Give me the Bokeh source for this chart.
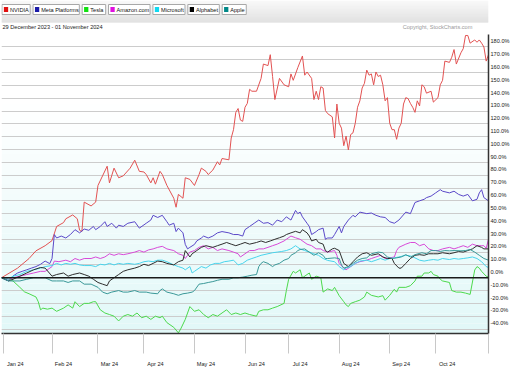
from bokeh.plotting import figure
from bokeh.models import Range1d, FixedTicker, Span, CustomJSTickFormatter
from bokeh.layouts import column
from bokeh.core.properties import value
from bokeh.embed import file_html
from bokeh.resources import INLINE

# ---------------- data (trading-day index since 29 Dec 2023, % change) ----------------
series_names = ["NVIDIA", "Meta Platforms", "Tesla", "Amazon.com", "Microsoft", "Alphabet", "Apple"]

nvda_day = [0,7,12,15,19,22,24,27,28,31,33,34,35,36,39,41,42,46,47,49,51,53,56,58,60,62,63,65,66,67,69,70,72,75,76,77,79,80,82,84,86,87,89,90,92,94,95,96,99,100,101,102,103,104,105,106,107,108,109,111,113,114,116,117,118,119,121,123,125,126,127,129,131,132,133,135,136,137,138,139,140,141,142,144,145,146,147,148,149,150,151,152,153,154,155,156,157,158,159,160,161,162,163,164,165,166,167,168,169,170,171,172,173,174,175,176,177,178,179,180,181,182,183,184,185,187,188,190,191,192,193,195,196,197,198,200,201,202,203,204,206,207,208,209,210,211,212]
nvda_pct = [0,7.5,15,21,25,29,40,43,46,49,46,37,36,59,56,59,72,87,74,85.5,78,79.5,85.5,91.7,83,82.5,80.5,74,78,73,83,80.5,72,62,55,65,62,78,76.7,72,80.5,85.5,83,80.5,84,90.5,88,93,92,109,115.5,129,132,123,122,133,136,147,145.5,145.5,155.5,166.7,165.5,174,157,139,155.5,150.5,149,159,154,164,173,158,160.5,155.5,139,145.5,139,149,148,130.5,128,125.5,109,135.5,120.5,116.7,103,110.5,99.7,111.7,113,120.5,133,138,148,151.7,162,158,159,150.5,160.5,157,158,150.5,138,140.5,120.5,115.5,115.5,108,116.7,120.5,135.5,140.5,139.7,136,133,129,138,134,150.5,149,144,145.5,137,140.5,150.5,154,169,168,172,178,166.7,175.5,178.7,189,189,183,185.5,183.7,185.5,183,180,169,174]

meta_day = [0,3,5,7,9,11,13,15,17,19,21,22,23,24,26,28,30,32,34,36,38,40,41,43,45,46,48,50,51,53,55,58,60,63,65,66,68,70,72,73,75,76,77,79,80,81,82,84,85,87,88,90,92,94,96,99,101,103,105,106,108,110,112,114,116,118,120,122,124,126,128,129,130,131,133,134,135,137,138,140,141,142,144,145,147,148,149,151,153,154,156,159,161,163,165,167,169,171,173,176,178,180,182,184,185,187,189,191,192,195,197,199,201,203,205,207,208,209,210,212]
meta_pct = [0,-2.5,1.3,3.7,5,6.2,7.5,8.7,10.5,13,11,15,33.7,31,32.5,31,33.7,37.5,35,38,37,40,37.5,40,43.7,40,42.5,38.7,41,40,42.5,43.7,38.7,42.5,45,48.7,47,48.7,43.7,41,42.5,36,38.7,35,26,22.5,23.7,26,28.7,31,32.5,31,32.5,35,36,35,33.7,33.7,32.5,37.5,40,42.5,45,42.5,43,41,45,43.7,47.5,45,52.5,50,51.2,47.5,42.5,40,33.7,36,37.5,38.7,30,31,31,33.7,40,35,40,45,48.7,47.5,51.2,50,50.5,48.7,47.5,47,43.7,42.5,45,51.2,50,58.7,60,61.2,62.5,63.7,66.2,68.7,67.5,66.2,67.5,65,63.7,65,60,61.2,66.2,68.7,62.5,60]

tsla_day = [0,3,5,8,10,12,15,16,17,18,20,22,24,27,29,31,32,34,36,38,40,41,43,45,47,49,51,53,55,57,59,61,63,65,67,69,70,72,75,77,78,80,82,84,86,88,90,92,94,96,98,100,102,104,106,108,111,112,114,116,118,120,123,124,125,127,128,130,131,133,134,135,137,139,140,142,144,145,147,149,150,151,152,154,156,158,159,161,164,166,167,169,171,172,173,176,178,180,181,183,184,186,187,188,190,191,192,195,196,198,200,202,204,206,207,208,209,211,212]
tsla_pct = [0,-1.2,-2.5,-7.5,-11,-12.5,-15,-18.7,-25,-23.7,-24.5,-23.7,-26.2,-23.7,-21.2,-23.7,-18.7,-22.5,-20,-20,-18.7,-18.7,-25,-27.5,-28.7,-30,-33.7,-30,-28.7,-30,-27.5,-31.2,-30,-32.5,-30,-31.2,-30,-35,-38.7,-43,-40,-32.5,-22.5,-26.2,-25,-28.7,-31.2,-28.7,-30,-27.5,-25,-28.7,-27.5,-28.7,-27.5,-28.7,-30,-26.2,-25,-25,-23.7,-22.5,-20,-10,-1.2,5,3.7,6.2,0,2.5,3.7,-1.2,1.2,0,-11.2,-8.7,-10,-7.5,-14,-18.7,-21.2,-22.5,-20,-18.7,-17.5,-15,-11.2,-13.7,-15,-14,-17.5,-13.7,-9,-11.2,-7.5,-7.5,-6.2,-2.5,1.2,1.2,3.7,3.7,5,2.5,1.2,-1.2,-2.5,-3.7,-10,-11.2,-11.2,-12,-13,6,8.7,7.5,5,1.2,0.5]

amzn_day = [0,3,5,8,11,14,17,19,22,23,25,28,30,32,34,36,39,41,43,45,47,49,51,53,55,58,60,62,64,66,68,70,72,75,77,79,80,81,82,84,86,88,90,92,94,96,99,101,103,104,106,108,110,112,114,116,118,120,123,124,126,128,130,133,135,137,139,140,142,145,146,147,149,150,152,154,156,159,161,163,165,167,169,171,172,173,176,178,180,182,184,186,188,190,192,195,197,199,201,203,205,207,209,210,211,212]
amzn_pct = [0,-1.2,0,1.2,2.5,3.7,5,5,8.7,13,12.5,13.7,12.5,15,13.7,15,15,16.2,15,16.2,18.7,17.5,18.7,18,18.7,20,21.2,20,21.7,22.5,23.7,24.5,22.5,21.2,18.7,17.5,15,17.5,20,21.2,23.7,25,22.5,23.7,21.2,22.5,21.2,20,18.7,16.2,18.7,21.2,21.2,22.5,22.5,23.7,25,26.2,28.7,30,32.5,31.2,30,26.2,25,22.5,22.5,21.2,20,21.2,17.5,11.2,7.5,6.2,8.7,11.2,12.5,13.7,15,16.2,17.5,15,15.5,16.2,21.2,23.7,26.2,27.5,27.5,25,26.2,22.5,21.2,21.2,22.5,23.7,22.5,23.7,25,23.7,26.2,25,25,25,23,30]

msft_day = [0,3,5,8,11,14,17,19,22,24,26,28,30,32,34,36,39,41,43,45,47,49,51,53,55,58,60,62,64,66,68,70,72,75,77,79,80,82,83,84,87,89,91,93,95,97,99,101,103,105,107,109,111,113,116,118,120,122,124,126,128,129,130,132,134,136,138,140,142,145,147,149,150,152,154,156,159,161,163,165,167,169,171,173,176,178,180,182,184,186,188,190,192,195,197,199,201,203,205,207,209,211,212]
msft_pct = [0,-1.2,1.2,2.5,5,6.2,7.5,8.7,9.5,11.2,10,11.2,10.5,11.2,10,9.5,9.5,8.7,10.5,10,11.2,10,11.2,10.5,11.2,10.5,11.2,12.5,13,12.5,13.7,13.7,12.5,10,8.7,7.5,6.2,8.7,3.7,5,8.7,7.5,10,11.2,11.2,12.5,13,13.7,10,11.2,13.7,15,16.2,17.5,18.7,19.5,20,20.5,21.2,22.5,25,23.7,22.5,21.2,20,18.7,17.5,15,13.5,12.5,8.7,6.2,7.5,8.7,11.2,13,13.7,12.5,13.7,15,13.7,15,15.5,16.2,17.5,17,15.5,13.7,13,13.7,14.2,13.7,15,14.2,15,14.5,15,15.5,16.2,15,12.5,8.7,8]

googl_day = [0,3,5,8,11,14,17,19,22,24,27,29,31,34,36,38,40,42,44,46,47,49,51,53,55,58,60,62,64,66,68,70,72,75,77,79,80,82,83,85,87,89,92,94,96,98,100,102,104,106,108,111,113,115,117,119,121,123,124,126,128,130,131,133,134,135,137,138,140,141,142,144,145,147,148,149,151,153,155,157,159,161,164,166,168,170,171,173,174,176,178,180,182,184,186,188,190,192,195,197,199,201,203,205,207,209,210,212]
googl_pct = [0,-2.5,-1.2,1.2,3.7,6.2,8,7.5,1.2,2.5,3.7,1.2,2.5,3.7,2.5,1.2,-1.2,-3.7,-5,-6.2,-2.5,0,2.5,5,6.2,7.5,8.7,10.5,9.5,11.2,13,12.5,11.2,10,12.5,13.7,21.2,16.2,18.7,21.2,23.7,25,23.7,25,26.2,27.5,26.2,25,26.2,27.5,26.2,27.5,28.7,27.5,28.7,30,31.2,32.5,33.7,35,36.2,35,37.5,35,32.5,28.7,30,27.5,26.2,21.2,20,22.5,23,21.2,16.2,11.2,8.7,12.5,16.2,18.7,19.5,17.5,18.7,16.2,15,15,11.2,7.5,7.5,11.2,15,17.5,18,17.5,18.7,18.7,18.7,19.5,18.7,19.5,20.5,20,21.2,22.5,25,23.7,22.5,22.5]

aapl_day = [0,3,5,8,11,14,17,19,22,24,27,29,31,34,36,39,42,44,46,48,51,53,55,58,60,63,65,68,69,70,72,75,77,79,81,83,84,86,88,90,92,94,96,99,101,103,105,107,109,111,112,113,114,116,118,119,121,123,125,126,128,129,130,132,133,135,136,138,140,141,142,145,147,148,149,151,153,155,157,159,161,164,166,168,170,172,174,176,178,180,183,185,187,189,191,193,195,197,200,202,204,206,208,210,212]
aapl_pct = [0,-2.5,-2.5,-2.5,-1.2,0,0,0,-2.5,-2.5,-2.5,-3.7,-2.5,-2.5,-5,-5,-7.5,-11.2,-12.5,-11.2,-10,-11.2,-11.2,-10,-11.2,-11.2,-12,-12.5,-10,-8.7,-11.2,-12.5,-13.7,-12.5,-12,-11.2,-10,-5,-4.5,-3.7,-3,-2,-1.2,-1.2,0,0,0.5,1.2,2,2.5,8.7,11.2,12.5,11.2,8.7,10,11.2,13.7,15,17.5,19.5,21.2,22,22.5,21.2,18.7,17.5,19.5,17.5,15,15,15.5,15,10,7.5,8.7,11.2,13.7,15,15.5,18.7,20,19.5,16.2,15,15.5,16.2,18,16.2,18,19.5,18.7,21.2,21.2,20.5,21.2,21,21.2,21,21.2,22,20,17.5,15,13.7]

month_labels = ["Jan 24", "Feb 24", "Mar 24", "Apr 24", "May 24", "Jun 24", "Jul 24", "Aug 24", "Sep 24", "Oct 24"]
month_start_day = [1, 22, 42, 62, 84, 106, 125, 147, 169, 189, 212]
pct_levels = [-40, -30, -20, -10, 0, 10, 20, 30, 40, 50, 60, 70, 80, 90, 100, 110, 120, 130, 140, 150, 160, 170, 180]
date_span_text = "29 December 2023 - 01 November 2024"
copyright_text = "Copyright, StockCharts.com"

# ---------------- style ----------------
FONT = "Liberation Sans"
FS_PX = 5.6
FS = "%.1fpx" % FS_PX
W = 512
HEADER_H = 34
BAR_H = 22
MAIN_H = 335
line_colors = ["#e25252", "#5a48c8", "#4cd94c", "#d84ad8", "#48d4ec", "#2e2e2e", "#3a9898"]
legend_colors = ["#e01010", "#1a1aa8", "#10e010", "#e010e0", "#10d8f0", "#000000", "#008888"]

# approximate Liberation Sans advance widths (em/1000) for sizing legend boxes
_adv = {"A": 667, "M": 833, "N": 722, "V": 667, "I": 278, "D": 722, "P": 667, "T": 611,
        "a": 556, "c": 500, "e": 556, "f": 278, "h": 556, "l": 222, "m": 833, "n": 556,
        "o": 556, "p": 556, "r": 333, "s": 500, "t": 278, "z": 500, "i": 222, "b": 556,
        ".": 278, " ": 278}

def text_width(s, size):
    return sum(_adv.get(ch, 556) for ch in s) / 1000.0 * size

def lerp_color(c0, c1, t):
    return "#%02x%02x%02x" % tuple(int(round(a + (b - a) * t)) for a, b in zip(c0, c1))

# ---------------- header (legend bar) ----------------
hdr = figure(width=W, height=HEADER_H, x_range=Range1d(0, W), y_range=Range1d(HEADER_H, 0),
             toolbar_location=None, output_backend="svg", min_border=0,
             x_axis_location=None, y_axis_location=None)
hdr.grid.visible = False
hdr.outline_line_color = None
n = BAR_H
hdr.quad(left=[0] * n, right=[W] * n, top=list(range(n)), bottom=[i + 1 for i in range(n)],
         fill_color=[lerp_color((247, 247, 247), (216, 216, 216), i / (n - 1)) for i in range(n)],
         line_color=None)

bx, lefts, rights, sq_l, sq_r, tx = 0.5, [], [], [], [], []
for name in series_names:
    w = 8.5 + text_width(name, FS_PX) + 2.5
    lefts.append(bx); rights.append(bx + w)
    sq_l.append(bx + 2); sq_r.append(bx + 6.5)
    tx.append(bx + 8.5)
    bx += w + 3
hdr.quad(left=lefts, right=rights, top=[4] * 7, bottom=[14] * 7,
         fill_color="white", line_color="#a8a8a8", line_width=1)
hdr.quad(left=sq_l, right=sq_r, top=[6.5] * 7, bottom=[11.5] * 7,
         fill_color=legend_colors, line_color=None)
hdr.text(x=tx, y=[9.3] * 7, text=series_names, text_font=value(FONT), text_font_size=FS,
         text_baseline="middle", text_color="#111111")
hdr.text(x=[1], y=[26.5], text=[date_span_text], text_font=value(FONT), text_font_size=FS,
         text_baseline="middle", text_color="#222222")
hdr.text(x=[495], y=[26.5], text=[copyright_text], text_font=value(FONT), text_font_size=FS,
         text_baseline="middle", text_align="right", text_color="#9a9a9a")

# ---------------- main chart ----------------
Y0, Y1 = -43.5, 189.75
p = figure(width=W, height=MAIN_H, x_range=Range1d(0, 212), y_range=Range1d(Y0, Y1),
           toolbar_location=None, output_backend="svg", y_axis_location="right",
           min_border_left=1, min_border_top=0, min_border_bottom=24, min_border_right=21)
p.outline_line_color = None
p.background_fill_color = "white"

nb = 30
edges = [Y0 + (Y1 - Y0) * i / nb for i in range(nb + 1)]
p.quad(left=[0] * nb, right=[212] * nb, bottom=edges[:-1], top=edges[1:],
       fill_color=[lerp_color((226, 248, 248), (255, 255, 255), min(1.0, i / (nb * 0.75))) for i in range(nb)],
       line_color=None, level="image")

p.xgrid.visible = False
p.ygrid.ticker = FixedTicker(ticks=pct_levels)
p.ygrid.grid_line_color = "#cccccc"
p.ygrid.grid_line_width = 1.2

p.add_layout(Span(location=0, dimension="width", line_color="#1a1a1a", line_width=1.5))

days = [nvda_day, meta_day, tsla_day, amzn_day, msft_day, googl_day, aapl_day]
pcts = [nvda_pct, meta_pct, tsla_pct, amzn_pct, msft_pct, googl_pct, aapl_pct]
for d, v, c in zip(days, pcts, line_colors):
    m = min(len(d), len(v))
    p.line(d[:m], v[:m], line_color=c, line_width=1.0)

# right axis: labels sit just above their grid line
LABEL_SHIFT = 4.5
ya = p.yaxis[0]
ya.ticker = FixedTicker(ticks=[v + LABEL_SHIFT for v in pct_levels])
ya.formatter = CustomJSTickFormatter(args=dict(s=LABEL_SHIFT), code="return (tick - s).toFixed(1) + '%';")
ya.major_tick_line_color = None
ya.minor_tick_line_color = None
ya.major_tick_out = 0
ya.major_tick_in = 0
ya.axis_label_standoff = 0
ya.axis_line_color = "#333333"
ya.axis_line_width = 1.5
ya.major_label_standoff = 2
ya.major_label_text_font = FONT
ya.major_label_text_font_size = FS
ya.major_label_text_color = "#222222"

# bottom axis: month separators as minor ticks, labels just right of them
LABEL_OFFSET = 5
label_pos = [m + LABEL_OFFSET for m in month_start_day[:-1]]
xa = p.xaxis[0]
xa.ticker = FixedTicker(ticks=label_pos, minor_ticks=month_start_day)
xa.formatter = CustomJSTickFormatter(args=dict(pos=label_pos, lab=month_labels),
                                     code="const i = pos.indexOf(tick); return i >= 0 ? lab[i] : '';")
xa.major_tick_line_color = None
xa.major_tick_out = 0
xa.major_tick_in = 0
xa.axis_label_standoff = 0
xa.minor_tick_in = 0
xa.minor_tick_out = 20
xa.minor_tick_line_color = "#c8c8c8"
xa.axis_line_color = "#333333"
xa.axis_line_width = 1.5
xa.major_label_standoff = 7
xa.major_label_text_font = FONT
xa.major_label_text_font_size = FS
xa.major_label_text_color = "#222222"

layout = column(hdr, p, spacing=0)
open("out.html", "w").write(file_html(layout, INLINE))
